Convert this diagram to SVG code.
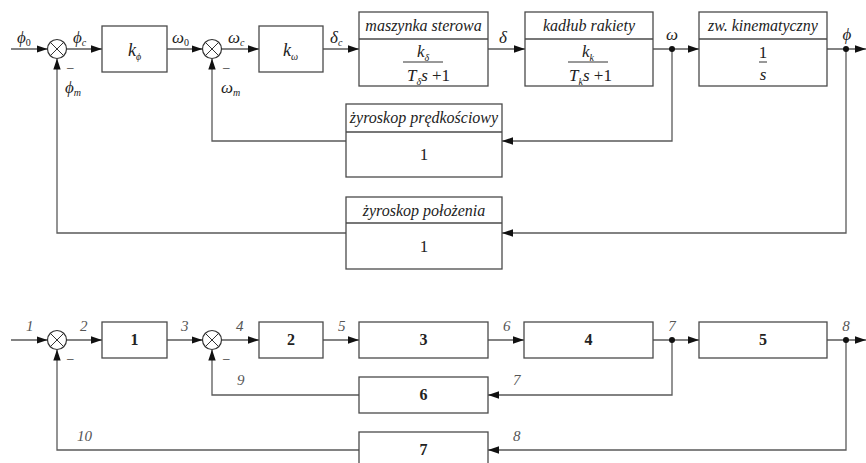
<svg xmlns="http://www.w3.org/2000/svg" width="866" height="463" viewBox="0 0 866 463">
<style>
.box{fill:#fff;stroke:#4a4a4a;stroke-width:1.3}
.arr{fill:none;stroke:#5a5a5a;stroke-width:1.3;marker-end:url(#ah)}
.sum circle{fill:#fff;stroke:#333;stroke-width:1.2}
.sum path{stroke:#333;stroke-width:1}
.dot{fill:#111}
text{font-family:Liberation Serif, Tinos, DejaVu Serif, Times, serif;fill:#222}
.it{font-style:italic}
.hd{font-style:italic;font-size:16px;text-anchor:middle}
.lb{font-style:italic;font-size:17px}
.sb{font-size:10px}
.num{font-style:italic;font-size:15px;fill:#555}
.bn{font-weight:bold;font-size:16px;text-anchor:middle}
.c{text-anchor:middle}
</style>
<defs>
<marker id="ah" markerUnits="userSpaceOnUse" markerWidth="11" markerHeight="8" refX="11" refY="4" orient="auto">
<path d="M0,0.3 L11,4 L0,7.7 z" fill="#111"/>
</marker>
</defs>

<!-- ================= TOP DIAGRAM ================= -->
<g id="connectors-top">
<path class="arr" d="M11,49 H47.5"/>
<path class="arr" d="M66.5,49 H102"/>
<path class="arr" d="M167,49 H202.5"/>
<path class="arr" d="M221.5,49 H259"/>
<path class="arr" d="M323,49 H359"/>
<path class="arr" d="M488,49 H525"/>
<path class="arr" d="M653,49 H699"/>
<path class="arr" d="M827,49 H866"/>
<path class="arr" d="M672,49 V141 H502"/>
<path class="arr" d="M346,141 H212 V58.5"/>
<path class="arr" d="M846,49 V233 H502"/>
<path class="arr" d="M346,233 H57 V58.5"/>
<circle class="dot" cx="672" cy="49" r="3"/>
<circle class="dot" cx="846" cy="49" r="3"/>
</g>

<g id="sum1" class="sum">
<circle cx="57" cy="49" r="9.5"/>
<path d="M50.3,42.3 L63.7,55.7 M63.7,42.3 L50.3,55.7"/>
</g>
<g id="sum2" class="sum">
<circle cx="212" cy="49" r="9.5"/>
<path d="M205.3,42.3 L218.7,55.7 M218.7,42.3 L205.3,55.7"/>
</g>

<g id="k_phi">
<rect class="box" x="102" y="26" width="65" height="46"/>
<text class="it" x="128" y="56" font-size="18">k<tspan class="sb" dy="4">ϕ</tspan></text>
</g>
<g id="k_omega">
<rect class="box" x="259" y="26" width="64" height="46"/>
<text class="it" x="283" y="56" font-size="18">k<tspan class="sb" dy="4">ω</tspan></text>
</g>
<g id="maszynka">
<rect class="box" x="359" y="12" width="129" height="74"/>
<line class="box" x1="359" y1="39" x2="488" y2="39"/>
<text class="hd" x="423.5" y="31">maszynka sterowa</text>
<text class="it" x="417" y="57" font-size="17">k<tspan class="sb" dy="4">δ</tspan></text>
<line x1="403" y1="62" x2="443" y2="62" stroke="#333" stroke-width="1"/>
<text class="it" x="407" y="81" font-size="17">T<tspan class="sb" dy="4">δ</tspan><tspan dy="-4">s</tspan><tspan font-style="normal"> +1</tspan></text>
</g>
<g id="kadlub">
<rect class="box" x="525" y="12" width="128" height="74"/>
<line class="box" x1="525" y1="39" x2="653" y2="39"/>
<text class="hd" x="589" y="31">kadłub rakiety</text>
<text class="it" x="582" y="57" font-size="17">k<tspan class="sb" dy="4">k</tspan></text>
<line x1="568" y1="62" x2="608" y2="62" stroke="#333" stroke-width="1"/>
<text class="it" x="569" y="81" font-size="17">T<tspan class="sb" dy="4">k</tspan><tspan dy="-4">s</tspan><tspan font-style="normal"> +1</tspan></text>
</g>
<g id="zw_kinematyczny">
<rect class="box" x="699" y="12" width="128" height="74"/>
<line class="box" x1="699" y1="39" x2="827" y2="39"/>
<text class="hd" x="763" y="31">zw. kinematyczny</text>
<text class="c" x="763" y="58" font-size="17">1</text>
<line x1="759" y1="62" x2="767" y2="62" stroke="#333" stroke-width="1"/>
<text class="it c" x="763" y="80" font-size="17">s</text>
</g>
<g id="zyroskop_predkosciowy">
<rect class="box" x="346" y="104" width="156" height="73"/>
<line class="box" x1="346" y1="132" x2="502" y2="132"/>
<text class="hd" x="424" y="123">żyroskop prędkościowy</text>
<text class="c" x="424" y="160" font-size="17">1</text>
</g>
<g id="zyroskop_polozenia">
<rect class="box" x="346" y="197" width="156" height="72"/>
<line class="box" x1="346" y1="223" x2="502" y2="223"/>
<text class="hd" x="424" y="216">żyroskop położenia</text>
<text class="c" x="424" y="252" font-size="17">1</text>
</g>

<g id="labels-top">
<text class="lb" x="17" y="43">ϕ<tspan class="sb" dy="3" font-style="normal">0</tspan></text>
<text class="lb" x="73" y="43">ϕ<tspan class="sb" dy="3">c</tspan></text>
<text class="lb" x="172" y="43">ω<tspan class="sb" dy="3" font-style="normal">0</tspan></text>
<text class="lb" x="228" y="43">ω<tspan class="sb" dy="3">c</tspan></text>
<text class="lb" x="330" y="43">δ<tspan class="sb" dy="3">c</tspan></text>
<text class="lb" x="499" y="43">δ</text>
<text class="lb c" x="672" y="40">ω</text>
<text class="lb c" x="847" y="40">ϕ</text>
<text x="67" y="71" font-size="13">–</text>
<text x="223" y="71" font-size="13">–</text>
<text class="lb" x="65" y="93">ϕ<tspan class="sb" dy="3">m</tspan></text>
<text class="lb" x="221" y="93">ω<tspan class="sb" dy="3">m</tspan></text>
</g>

<!-- ================= BOTTOM DIAGRAM ================= -->
<g id="connectors-bottom">
<path class="arr" d="M11,340 H47.5"/>
<path class="arr" d="M66.5,340 H102"/>
<path class="arr" d="M167,340 H202.5"/>
<path class="arr" d="M221.5,340 H259"/>
<path class="arr" d="M323,340 H359"/>
<path class="arr" d="M488,340 H524"/>
<path class="arr" d="M653,340 H699"/>
<path class="arr" d="M827,340 H866"/>
<path class="arr" d="M672,340 V395 H488"/>
<path class="arr" d="M359,395 H212 V349.5"/>
<path class="arr" d="M846,340 V450 H488"/>
<path class="arr" d="M359,450 H57 V349.5"/>
<circle class="dot" cx="672" cy="340" r="3"/>
<circle class="dot" cx="846" cy="340" r="3"/>
</g>

<g id="sum3" class="sum">
<circle cx="57" cy="340" r="9.5"/>
<path d="M50.3,333.3 L63.7,346.7 M63.7,333.3 L50.3,346.7"/>
</g>
<g id="sum4" class="sum">
<circle cx="212" cy="340" r="9.5"/>
<path d="M205.3,333.3 L218.7,346.7 M218.7,333.3 L205.3,346.7"/>
</g>

<g id="b1"><rect class="box" x="102" y="322" width="65" height="36"/><text class="bn" x="134.5" y="345">1</text></g>
<g id="b2"><rect class="box" x="259" y="322" width="64" height="36"/><text class="bn" x="291" y="345">2</text></g>
<g id="b3"><rect class="box" x="359" y="322" width="129" height="36"/><text class="bn" x="423.5" y="345">3</text></g>
<g id="b4"><rect class="box" x="524" y="322" width="129" height="36"/><text class="bn" x="588.5" y="345">4</text></g>
<g id="b5"><rect class="box" x="699" y="322" width="128" height="36"/><text class="bn" x="763" y="345">5</text></g>
<g id="b6"><rect class="box" x="359" y="377" width="129" height="36"/><text class="bn" x="423.5" y="400">6</text></g>
<g id="b7"><rect class="box" x="359" y="432" width="129" height="40"/><text class="bn" x="423.5" y="455">7</text></g>

<g id="labels-bottom">
<text class="num" x="26" y="331">1</text>
<text class="num" x="80" y="331">2</text>
<text class="num" x="181" y="331">3</text>
<text class="num" x="236" y="331">4</text>
<text class="num" x="338" y="331">5</text>
<text class="num" x="503" y="331">6</text>
<text class="num c" x="672" y="331">7</text>
<text class="num c" x="846" y="331">8</text>
<text class="num" x="237" y="385">9</text>
<text class="num" x="513" y="385">7</text>
<text class="num" x="77" y="441">10</text>
<text class="num" x="513" y="441">8</text>
<text x="67" y="362" font-size="13">–</text>
<text x="223" y="362" font-size="13" fill="#666">–</text>
</g>
</svg>
